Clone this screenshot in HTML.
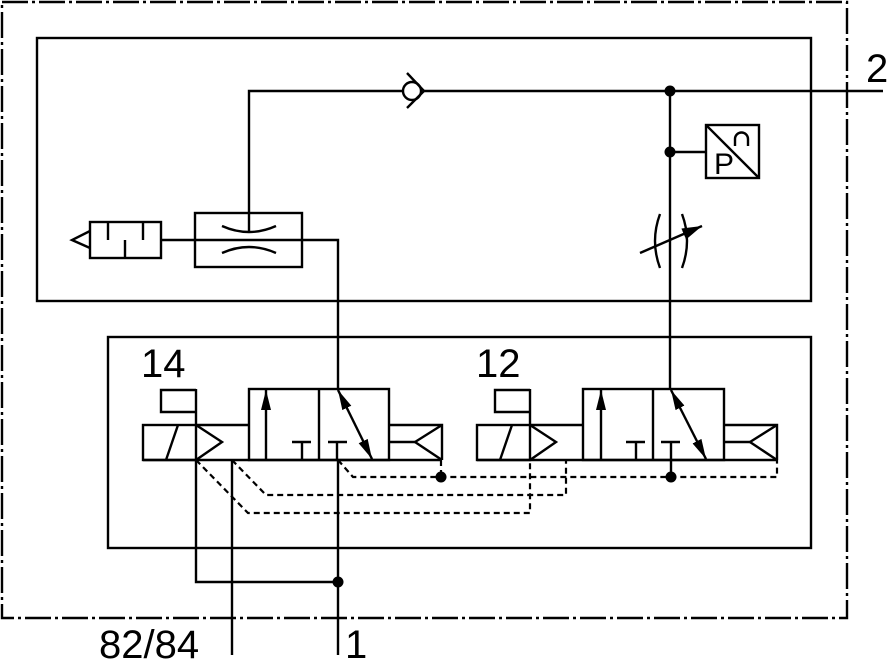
<!DOCTYPE html>
<html><head><meta charset="utf-8"><style>
html,body{margin:0;padding:0;background:#fff;}
svg{display:block;}
text{font-family:"Liberation Sans","DejaVu Sans",sans-serif;fill:#000;}
</style></head><body>
<svg width="889" height="666" viewBox="0 0 889 666" xmlns="http://www.w3.org/2000/svg">
<defs>
<marker id="ah" viewBox="0 0 20 10" refX="20" refY="5" markerWidth="20" markerHeight="10" orient="auto-start-reverse" markerUnits="userSpaceOnUse"><path d="M0,0 L20,5 L0,10 z" fill="#000"/></marker>
<marker id="ah2" viewBox="0 0 20 12" refX="20" refY="6" markerWidth="20" markerHeight="12" orient="auto-start-reverse" markerUnits="userSpaceOnUse"><path d="M0,0 L20,6 L0,12 z" fill="#000"/></marker>
</defs>
<g fill="none" stroke="#000" stroke-width="2.4">
<rect x="2" y="2" width="845" height="616" stroke-dasharray="26,4,3,4"/>
<rect x="37" y="38" width="774" height="263"/>
<rect x="108" y="337" width="703" height="211"/>

<polyline points="249,232 249,91 402,91"/>
<line x1="424" y1="91" x2="883" y2="91"/>
<circle cx="412" cy="91" r="9"/>
<polyline points="407,73 424,91 407,108"/>

<line x1="670" y1="91" x2="670" y2="389"/>
<line x1="670" y1="152" x2="706" y2="152"/>
<rect x="706" y="125" width="53" height="53"/>
<line x1="706" y1="125" x2="759" y2="178"/>
<path d="M735,146 V139 A6.5,6.5 0 0 1 748,139 V146"/>

<path d="M660,214 Q650,241 660,268"/>
<path d="M682,214 Q692,241 682,268"/>
<line x1="640" y1="253" x2="702" y2="226" marker-end="url(#ah2)"/>

<polyline points="90,231 72,240 90,248"/>
<rect x="90" y="222" width="71" height="36"/>
<line x1="108" y1="222" x2="108" y2="240"/>
<line x1="125" y1="240" x2="125" y2="258"/>
<line x1="143" y1="222" x2="143" y2="240"/>

<rect x="195" y="213" width="107" height="54"/>
<polyline points="161,240 338,240 338,389"/>
<path d="M222,226 Q249,238 276,226"/>
<path d="M222,253 Q249,241 276,253"/>

<!-- VALVE 1 -->
<line x1="143" y1="460" x2="442" y2="460"/>
<rect x="143" y="425" width="53" height="35"/>
<line x1="178" y1="425" x2="166" y2="460"/>
<line x1="196" y1="425" x2="249" y2="425"/>
<polyline points="196,425 222,442 196,460"/>
<polyline points="196,389 196,425"/>
<polyline points="196,390 161,390 161,412 196,412"/>
<rect x="249" y="389" width="140" height="71"/>
<line x1="319" y1="389" x2="319" y2="460"/>
<line x1="266" y1="460" x2="266" y2="390" marker-end="url(#ah)"/>
<line x1="302" y1="442" x2="302" y2="460"/><line x1="292" y1="442" x2="311" y2="442"/>
<line x1="337" y1="442" x2="337" y2="460"/><line x1="328" y1="442" x2="347" y2="442"/>
<line x1="338" y1="390" x2="372" y2="459" marker-start="url(#ah)" marker-end="url(#ah)"/>
<polyline points="389,425 442,425 442,460"/>
<polyline points="442,425 415,442 442,460"/>
<line x1="389" y1="442" x2="415" y2="442"/>

<!-- VALVE 2 -->
<line x1="477" y1="460" x2="777" y2="460"/>
<rect x="477" y="425" width="53" height="35"/>
<line x1="512" y1="425" x2="500" y2="460"/>
<line x1="530" y1="425" x2="583" y2="425"/>
<polyline points="530,425 556,442 530,460"/>
<line x1="530" y1="389" x2="530" y2="425"/>
<polyline points="530,390 495,390 495,412 530,412"/>
<rect x="583" y="389" width="141" height="71"/>
<line x1="653" y1="389" x2="653" y2="460"/>
<line x1="601" y1="460" x2="601" y2="390" marker-end="url(#ah)"/>
<line x1="636" y1="442" x2="636" y2="460"/><line x1="626" y1="442" x2="645" y2="442"/>
<line x1="671" y1="442" x2="671" y2="477"/><line x1="661" y1="442" x2="680" y2="442"/>
<line x1="671" y1="390" x2="706" y2="459" marker-start="url(#ah)" marker-end="url(#ah)"/>
<polyline points="724,425 777,425 777,460"/>
<polyline points="777,425 750,442 777,460"/>
<line x1="724" y1="442" x2="750" y2="442"/>

<g stroke-dasharray="6,4" stroke-width="2.2">
<polyline points="196,460 248,513 530,513 530,460"/>
<polyline points="232,460 266,495 566,495 566,460"/>
<polyline points="338,460 353,477 777,477 777,460"/>
<line x1="441" y1="460" x2="441" y2="477"/>
</g>

<polyline points="196,460 196,582 338,582"/>
<line x1="232" y1="460" x2="232" y2="655"/>
<line x1="338" y1="460" x2="338" y2="655"/>
</g>
<g fill="#000">
<circle cx="670" cy="91" r="5.5"/>
<circle cx="670" cy="152" r="5.5"/>
<circle cx="441" cy="477" r="5.5"/>
<circle cx="671" cy="477" r="5.5"/>
<circle cx="338" cy="582" r="5.5"/>
</g>
<text x="141" y="377" font-size="40">14</text>
<text x="476" y="377" font-size="40">12</text>
<text x="866" y="82" font-size="40">2</text>
<text x="99" y="658" font-size="40">82/84</text>
<text x="345" y="658" font-size="40">1</text>
<text x="714" y="174" font-size="30">P</text>
</svg>
</body></html>
